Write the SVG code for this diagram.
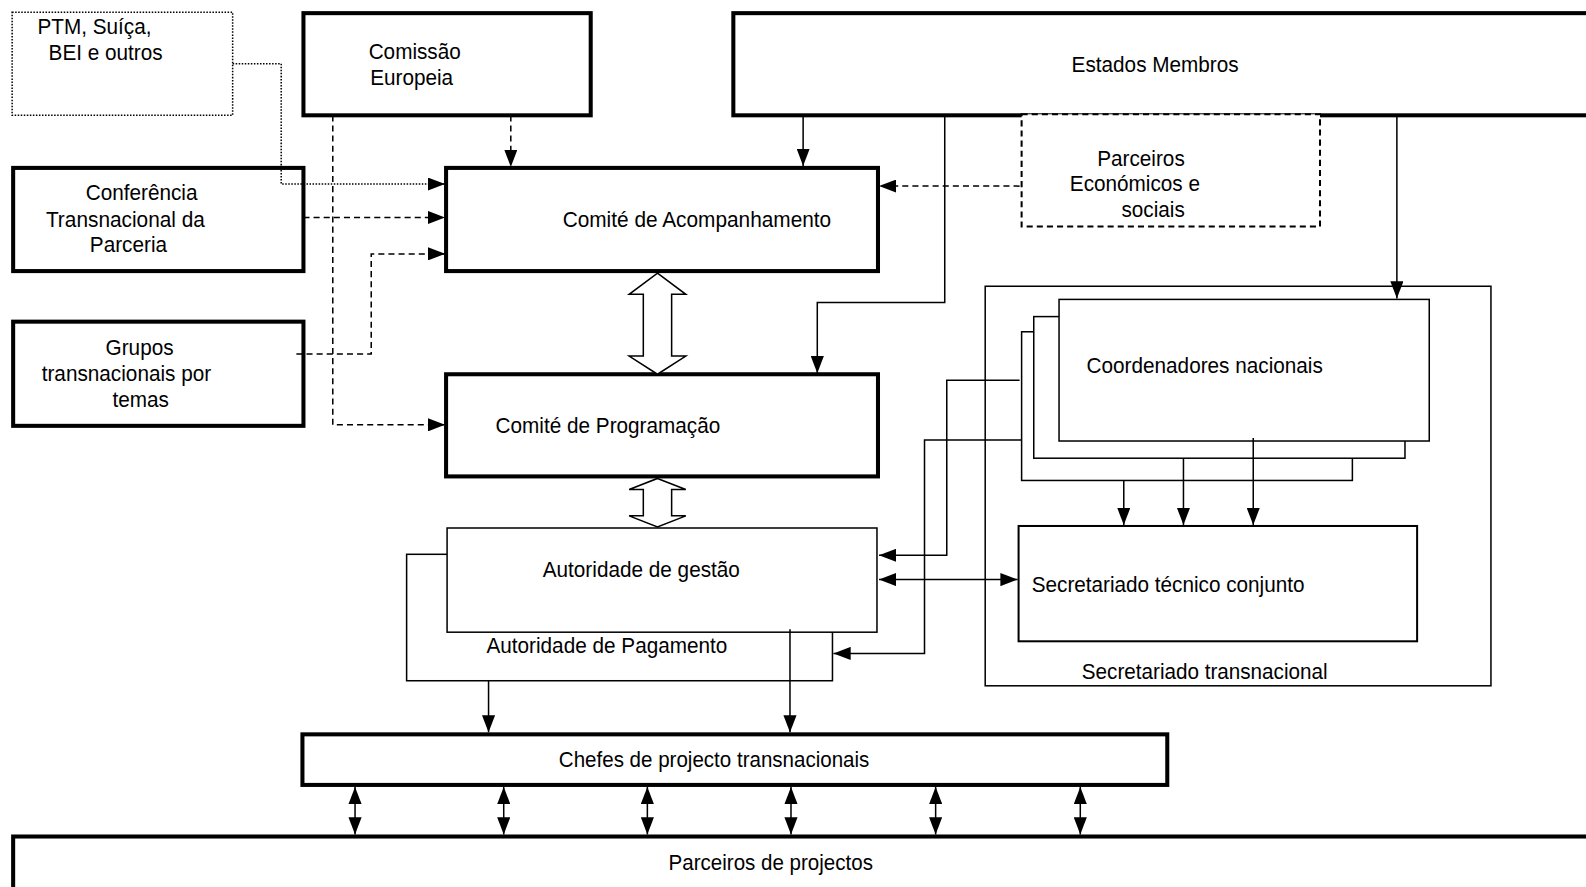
<svg xmlns="http://www.w3.org/2000/svg" width="1586" height="887" viewBox="0 0 1586 887">
<style>
text{font-family:"Liberation Sans",Arial,sans-serif;font-size:22px;fill:#000}
.c{text-anchor:middle}
.thick{fill:#fff;stroke:#000;stroke-width:4}
.thin{fill:#fff;stroke:#000;stroke-width:1.5}
.med{fill:#fff;stroke:#000;stroke-width:2}
.dotbox{fill:#fff;stroke:#000;stroke-width:1.5;stroke-dasharray:1.5 1.5}
.dashbox{fill:#fff;stroke:#000;stroke-width:2;stroke-dasharray:6 4}
.ln{fill:none;stroke:#000;stroke-width:1.5}
.dash{stroke-dasharray:6 4}
.dot{stroke-dasharray:1.5 1.5}
.arr{marker-end:url(#ah)}
.dbl{marker-end:url(#ah);marker-start:url(#ah)}
.hollow{fill:#fff;stroke:#000;stroke-width:1.5;stroke-linejoin:miter}
</style>
<defs>
<marker id="ah" viewBox="0 0 17 13" refX="17" refY="6.5" markerWidth="17" markerHeight="13" orient="auto-start-reverse" markerUnits="userSpaceOnUse"><path d="M0,0 L17,6.5 L0,13 z" fill="#000"/></marker>
</defs>
<rect width="1586" height="887" fill="#fff"/>
<g transform="scale(1.0115)">
<g id="ptm"><rect class="dotbox" x="12" y="12" width="218" height="102"/><text x="37" y="34" textLength="112.8" lengthAdjust="spacingAndGlyphs">PTM, Suíça,</text><text x="48" y="59" textLength="112.8" lengthAdjust="spacingAndGlyphs">BEI e outros</text></g>
<g id="comissao"><rect class="thick" x="300" y="13" width="284" height="101"/><text class="c" x="410" y="58" textLength="91.1" lengthAdjust="spacingAndGlyphs">Comissão</text><text class="c" x="407" y="84" textLength="82" lengthAdjust="spacingAndGlyphs">Europeia</text></g>
<g id="estados"><rect class="thick" x="725" y="13" width="900" height="101"/><text class="c" x="1142" y="71" textLength="165.2" lengthAdjust="spacingAndGlyphs">Estados Membros</text></g>
<g id="conferencia"><rect class="thick" x="13" y="166" width="287" height="102"/><text class="c" x="140" y="198" textLength="110.5" lengthAdjust="spacingAndGlyphs">Conferência</text><text class="c" x="124" y="224" textLength="157.2" lengthAdjust="spacingAndGlyphs">Transnacional da</text><text class="c" x="127" y="249" textLength="76.3" lengthAdjust="spacingAndGlyphs">Parceria</text></g>
<g id="grupos"><rect class="thick" x="13" y="318" width="287" height="103"/><text class="c" x="138" y="351" textLength="67.2" lengthAdjust="spacingAndGlyphs">Grupos</text><text class="c" x="125" y="377" textLength="167.6" lengthAdjust="spacingAndGlyphs">transnacionais por</text><text class="c" x="139" y="402" textLength="55.8" lengthAdjust="spacingAndGlyphs">temas</text></g>
<g id="comite-acomp"><rect class="thick" x="441" y="166" width="427" height="102"/><text class="c" x="689" y="224" textLength="265.5" lengthAdjust="spacingAndGlyphs">Comité de Acompanhamento</text></g>
<g id="parceiros-eco"><rect class="dashbox" x="1010" y="113" width="295" height="111"/><text class="c" x="1128" y="164" textLength="86.6" lengthAdjust="spacingAndGlyphs">Parceiros</text><text class="c" x="1122" y="189" textLength="128.7" lengthAdjust="spacingAndGlyphs">Económicos e</text><text class="c" x="1140" y="215" textLength="62.6" lengthAdjust="spacingAndGlyphs">sociais</text></g>
<g id="comite-prog"><rect class="thick" x="441" y="370" width="427" height="101"/><text class="c" x="601" y="428" textLength="222.2" lengthAdjust="spacingAndGlyphs">Comité de Programação</text></g>
<g id="pagamento"><rect class="thin" x="402" y="548" width="421" height="125"/><text class="c" x="600" y="646" textLength="238.2" lengthAdjust="spacingAndGlyphs">Autoridade de Pagamento</text></g>
<g id="gestao"><rect class="thin" x="442" y="522" width="425" height="103"/><text class="c" x="634" y="570" textLength="194.9" lengthAdjust="spacingAndGlyphs">Autoridade de gestão</text></g>
<g id="sec-transnacional"><rect class="thin" x="974" y="283" width="500" height="395"/><text class="c" x="1191" y="671" textLength="242.9" lengthAdjust="spacingAndGlyphs">Secretariado transnacional</text></g>
<g id="coordenadores"><rect class="thin" x="1010" y="328" width="327" height="147"/><rect class="thin" x="1022" y="313" width="367" height="140"/><rect class="thin" x="1047" y="296" width="366" height="140"/><text class="c" x="1191" y="369" textLength="233.6" lengthAdjust="spacingAndGlyphs">Coordenadores nacionais</text></g>
<g id="sec-tecnico"><rect class="med" x="1007" y="520" width="394" height="114"/><text x="1020" y="585" textLength="269.6" lengthAdjust="spacingAndGlyphs">Secretariado técnico conjunto</text></g>
<g id="chefes"><rect class="thick" x="299" y="726" width="855" height="50"/><text class="c" x="706" y="758" textLength="307" lengthAdjust="spacingAndGlyphs">Chefes de projecto transnacionais</text></g>
<g id="parceiros-proj"><rect class="thick" x="13" y="827" width="1600" height="80"/><text class="c" x="762" y="860" textLength="202" lengthAdjust="spacingAndGlyphs">Parceiros de projectos</text></g>
<g id="connectors">
<polyline class="ln dot arr" points="230,63 278,63 278,182 440,182"/>
<polyline class="ln dash arr" points="300,215 440,215"/>
<polyline class="ln dash arr" points="293,350 367,350 367,251 440,251"/>
<polyline class="ln dash arr" points="329,114 329,420 440,420"/>
<polyline class="ln dash arr" points="505,114 505,165"/>
<polyline class="ln dash arr" points="1008,184 869,184"/>
<polyline class="ln arr" points="794,114 794,164"/>
<polyline class="ln arr" points="934,114 934,299 808,299 808,369"/>
<polyline class="ln arr" points="1381,114 1381,295"/>
<polyline class="ln arr" points="1008,376 936,376 936,549 869,549"/>
<polyline class="ln arr" points="1010,435 914,435 914,646 824,646"/>
<polyline class="ln dbl" points="869,573 1006,573"/>
<polyline class="ln arr" points="1111,475 1111,519"/>
<polyline class="ln arr" points="1170,453 1170,519"/>
<polyline class="ln arr" points="1239,433 1239,519"/>
<polyline class="ln arr" points="483,673 483,724"/>
<polyline class="ln arr" points="781,622 781,724"/>
<polyline class="ln dbl" points="351,778 351,825"/>
<polyline class="ln dbl" points="498,778 498,825"/>
<polyline class="ln dbl" points="640,778 640,825"/>
<polyline class="ln dbl" points="782,778 782,825"/>
<polyline class="ln dbl" points="925,778 925,825"/>
<polyline class="ln dbl" points="1068,778 1068,825"/>
<path class="hollow" d="M650,270 L678,291 L664,291 L664,352 L678,352 L650,370 L622,352 L636,352 L636,291 L622,291 Z"/>
<path class="hollow" d="M650,473 L678,484 L664,484 L664,510 L678,510 L650,521 L622,510 L636,510 L636,484 L622,484 Z"/>
</g>
</g>
</svg>
